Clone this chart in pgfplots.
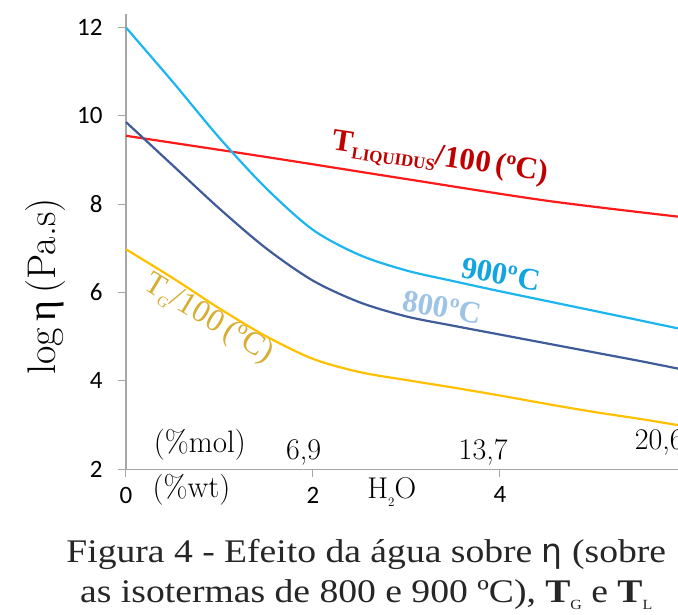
\documentclass[border=0pt]{standalone}
\usepackage{fontspec}
\usepackage{pgfplots}
\pgfplotsset{compat=1.18}
\newfontfamily\lib{Liberation Serif}
\newfontfamily\libw[FakeStretch=1.14]{Liberation Serif}
\newfontfamily\carl{Carlito}
\newfontfamily\dejavu{DejaVu Sans}
\newcommand{\fs}[1]{\fontsize{#1}{#1}\selectfont}
\definecolor{axgray}{HTML}{A6A6A6}
\definecolor{lred}{HTML}{FF1A1A}
\definecolor{tred}{HTML}{C00000}
\definecolor{l900}{HTML}{1CB5F0}
\definecolor{t900}{HTML}{12A5E0}
\definecolor{l800}{HTML}{3F5C98}
\definecolor{t800}{HTML}{9DC3E6}
\definecolor{lyel}{HTML}{FFC000}
\definecolor{tyel}{HTML}{D6AE32}
\begin{document}
\begin{tikzpicture}
\begin{axis}[
  scale only axis, width=552pt, height=455pt,
  xmin=0, xmax=5.904, ymin=2, ymax=12.3,
  axis x line=bottom, axis y line=left,
  axis line style={draw=axgray, line width=1.1pt, -},
  xtick={0,2,4}, ytick={2,4,6,8,10,12},
  tick style={draw=axgray, line width=1pt},
  tick align=outside, major tick length=8pt,
  /pgf/number format/assume math mode=true,
  ticklabel style={font=\carl\fs{25}},
  xticklabel style={yshift=-6pt},
  yticklabel style={xshift=-12pt},
  clip=false,
]
\addplot[smooth, line width=2.2pt, color=lred] coordinates {
  (0,9.55) (1.5,9.07) (3.0,8.57) (4.5,8.08) (5.904,7.72)};
\addplot[smooth, line width=2.2pt, color=l900] coordinates {
  (0,12.0) (0.5,10.77) (1.0,9.5) (1.5,8.36) (2.0,7.42) (2.5,6.85) (3.0,6.5) (3.5,6.26) (4.0,6.03) (4.5,5.81) (5.0,5.59) (5.5,5.37) (5.904,5.19)};
\addplot[smooth, line width=2.2pt, color=l800] coordinates {
  (0,9.86) (0.5,8.88) (1.0,7.9) (1.5,7.0) (2.0,6.27) (2.5,5.78) (3.0,5.46) (3.5,5.25) (4.0,5.05) (4.5,4.85) (5.0,4.65) (5.5,4.45) (5.904,4.28)};
\addplot[smooth, line width=2.2pt, color=lyel] coordinates {
  (0,6.98) (0.5,6.33) (1.0,5.64) (1.5,5.01) (2.0,4.5) (2.5,4.2) (3.0,4.02) (3.5,3.85) (4.0,3.67) (4.5,3.48) (5.0,3.3) (5.5,3.14) (5.904,3.0)};

% curve labels
\node[rotate=-8.5, text=tred, font=\lib\bfseries\upshape\fs{31}] at (axis cs:3.36,9.02)
  {T\raisebox{-0.2em}{\fs{17}LIQUIDUS}/100\,(ºC)};
\node[rotate=-10, text=t900, font=\lib\bfseries\upshape\fs{31}] at (axis cs:4.01,6.42) {900ºC};
\node[rotate=-10, text=t800, font=\lib\bfseries\upshape\fs{31}] at (axis cs:3.38,5.67) {800ºC};
\node[rotate=-31, text=tyel, font=\lib\upshape\fs{32}] at (axis cs:0.88,5.4)
  {T\raisebox{-0.2em}{\fs{15}G}/100\,(ºC)};

% bottom annotations
\node[font=\fs{31}] at (axis cs:0.79,2.55) {(\%mol)};
\node[font=\fs{30}] at (axis cs:1.90,2.39) {\oldstylenums{6},\oldstylenums{9}};
\node[font=\fs{30}] at (axis cs:3.82,2.39) {\oldstylenums{13},\oldstylenums{7}};
\node[font=\fs{30}, anchor=west, inner sep=0pt] at (axis cs:5.44,2.6) {\oldstylenums{20},\oldstylenums{6}};
\node[font=\fs{31}] at (axis cs:0.70,1.53) {(\%wt)};
\node[font=\fs{30}, anchor=west, inner sep=0pt] at (axis cs:2.58,1.49) {H\raisebox{-0.25em}{\fs{13}\oldstylenums{2}}O};

% y label
\node[rotate=90, font=\fs{40}] at (axis cs:-0.856,6.14) {log\,{\lib η}\,(Pa.s)};

% caption
\node[font=\libw\fontsize{33}{40}\selectfont, align=center, text=black!85] at (axis cs:2.57,-0.39)
  {Figura 4 - Efeito da água sobre {\dejavu η} (sobre\\
   as isotermas de 800 e 900 ºC), \textbf{T}\raisebox{-0.2em}{\fs{14}G} e \textbf{T}\raisebox{-0.2em}{\fs{14}L}};
\end{axis}
\pgfresetboundingbox
\path[use as bounding box] (-126pt,-144.7pt) rectangle (552pt,469.3pt);
\end{tikzpicture}
\end{document}
